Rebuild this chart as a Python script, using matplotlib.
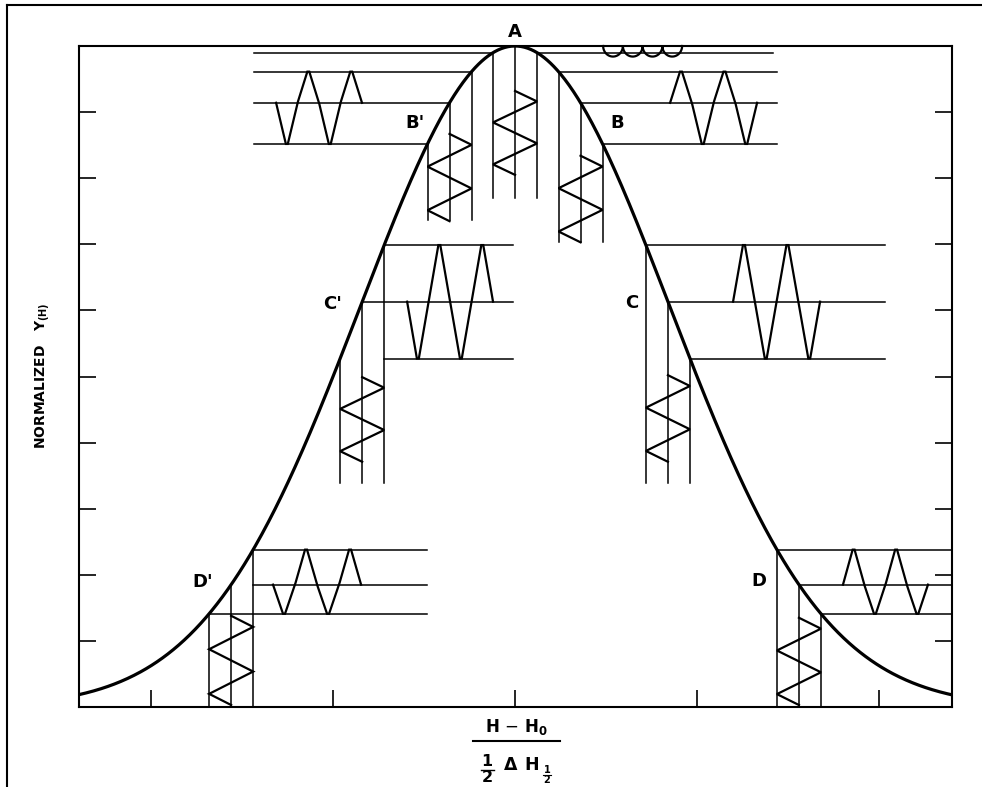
import numpy as np
import matplotlib
matplotlib.use('Agg')
import matplotlib.pyplot as plt
from matplotlib.lines import Line2D

W, H = 982, 787

### line shape: normalized gaussian, half width = 1 unit
def shape(x):
    return 2.0 ** (-x ** 2)

### modulation diagrams
labels = ['A', "B'", 'B', "C'", 'C', "D'", 'D']
centers = [0.0, -0.36, 0.36, -0.84, 0.84, -1.56, 1.56]
mod = 0.121  # modulation half amplitude
vert_bottom = [0.770, 0.737, 0.703, 0.339, 0.339, 0.0, 0.0]
zig_top = [0.932, 0.867, 0.834, 0.499, 0.502, 0.138, 0.135]
zig_bot = [0.805, 0.735, 0.703, 0.371, 0.371, 0.003, 0.003]
line_end = [1.418, -1.434, 1.44, -0.011, 2.033, -0.484, 2.4]
out_start = [0.484, -1.313, 0.852, -0.593, 1.198, -1.330, 1.802]
out_end = [0.918, -0.841, 1.330, -0.121, 1.676, -0.846, 2.269]
out_dir = [0, -1, 1, -1, 1, -1, 1]
label_x = [0.0, -0.549, 0.560, -1.005, 0.643, -1.714, 1.341]
label_y = [1.021, 0.883, 0.883, 0.610, 0.611, 0.189, 0.191]

# horizontal lines that begin at the right vertical instead of at the curve
from_edge = {("C'", -1), ("D'", 0)}

def tri(t):
    return 2 / np.pi * np.arcsin(np.sin(2 * np.pi * t))

fig = plt.figure(figsize=(W / 100, H / 100), dpi=100)
ax = fig.add_axes([79 / W, 1 - 707 / H, 873 / W, 661 / H])

x = np.linspace(-2.4, 2.4, 800)
ax.plot(x, shape(x), color='k', lw=2.3, solid_capstyle='round')

thin = dict(color='k', lw=1.1, clip_on=False)
zz = dict(color='k', lw=1.6, clip_on=False, solid_joinstyle='miter')

t = np.linspace(0, 2, 801)
for i, lab in enumerate(labels):
    c = centers[i]
    # field sweep lines dropped from the curve
    for off in (-mod, 0.0, mod):
        xv = c + off
        ax.plot([xv, xv], [shape(xv), vert_bottom[i]], **thin)
    # triangular field modulation
    yz = np.linspace(zig_top[i], zig_bot[i], len(t))
    ax.plot(c + mod * tri(t), yz, **zz)

    # signal levels carried across from the curve
    for k, off in zip((-1, 0, 1), (-mod, 0.0, mod)):
        if lab == 'A' and k == 0:
            continue
        xs = c + off
        xe = line_end[i]
        if lab == 'A':
            xe = -1.434 if k < 0 else line_end[i]
        if (lab, k) in from_edge:
            xs = c + mod
        ax.plot([xs, xe], [shape(c + off)] * 2, **thin)

    # detected signal
    if out_dir[i] == 0:
        # second harmonic at the peak: row of little arcs
        s = np.linspace(0, 4, 801)
        f = s % 1.0
        ys = 1.0 - 0.016 * np.sqrt(np.clip(1 - (2 * f - 1) ** 2, 0, 1))
        ax.plot(np.linspace(out_start[i], out_end[i], len(s)), ys, **zz)
    else:
        mid = shape(c)
        hi = max(shape(c - mod), shape(c + mod))
        lo = min(shape(c - mod), shape(c + mod))
        u = out_dir[i] * np.clip(1.1 * tri(t), -1, 1)
        ys = np.where(u > 0, mid + u * (hi - mid), mid + u * (mid - lo))
        ax.plot(np.linspace(out_start[i], out_end[i], len(t)), ys, **zz)

    ax.text(label_x[i], label_y[i], lab, ha='center', va='center',
            fontsize=13, fontweight='bold')

ax.set_xlim(-2.396, 2.401)
ax.set_ylim(0, 1)
ax.set_xticks([-2, -1, 0, 1, 2])
ax.set_yticks(np.arange(1, 10) / 10)
ax.tick_params(direction='in', length=12, width=1.2, left=True, right=True,
               top=False, bottom=True, labelleft=False, labelbottom=False)
for sp in ax.spines.values():
    sp.set_linewidth(1.5)

fig.text(43 / W, 1 - 376 / H, r'NORMALIZED   Y$_{\mathbf{(H)}}$', rotation=90,
         ha='center', va='center', fontsize=10, fontweight='bold')

### x label built as a hand lettered fraction
def px_text(px, py, s, size):
    fig.text(px / W, 1 - py / H, s, ha='center', va='center',
             fontsize=size, fontweight='bold')

def px_line(x0, x1, py, lw=1.5):
    fig.add_artist(Line2D([x0 / W, x1 / W], [1 - py / H] * 2, color='k',
                          lw=lw, transform=fig.transFigure))

px_text(517, 727, r'H $-$ H$_{\mathbf{0}}$', 12)
px_line(473, 560, 741)
px_text(487, 762, '1', 11.5)
px_line(481, 494, 770, lw=1.0)
px_text(487, 777, '2', 11.5)
px_text(511, 765, r'$\mathbf{\Delta}$', 12.5)
px_text(532, 765, 'H', 12.5)
px_text(547, 770, '1', 7)
px_line(543, 551, 775, lw=0.8)
px_text(547, 780, '2', 7)

# scan frame on left and top
fig.add_artist(Line2D([7 / W, 7 / W], [0, 1 - 5 / H], color='k', lw=1.5,
                      transform=fig.transFigure))
fig.add_artist(Line2D([7 / W, 1], [1 - 5 / H] * 2, color='k', lw=1.5,
                      transform=fig.transFigure))

fig.savefig('out.png', dpi=100)
